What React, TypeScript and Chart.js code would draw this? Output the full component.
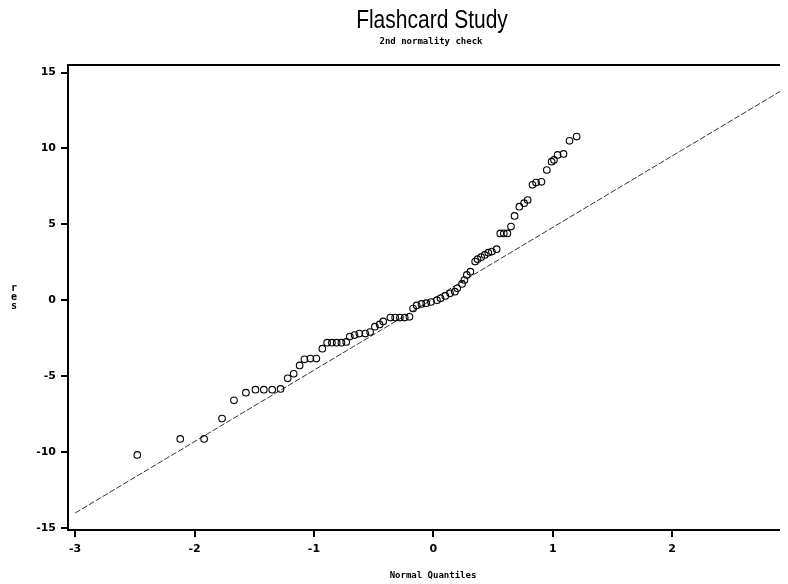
import React, { useEffect, useRef } from "react";
import { Chart, registerables } from "chart.js";

Chart.register(...registerables);

const TITLE = "Flashcard Study";
const SUBTITLE = "2nd normality check";
const X_TITLE = "Normal Quantiles";
const Y_TITLE = ["r", "e", "s"];

const X_TICKS = [-3, -2, -1, 0, 1, 2];
const Y_TICKS = [-15, -10, -5, 0, 5, 10, 15];

const quantiles = [
  -2.48, -2.12, -1.92, -1.77, -1.67, -1.57, -1.49, -1.42, -1.35, -1.28,
  -1.22, -1.17, -1.12, -1.08, -1.03, -0.98, -0.93, -0.89, -0.85, -0.81,
  -0.77, -0.73, -0.70, -0.66, -0.62, -0.57, -0.53, -0.49, -0.45, -0.42,
  -0.36, -0.32, -0.28, -0.24, -0.20, -0.17, -0.14, -0.10, -0.06, -0.02,
  0.03, 0.06, 0.10, 0.14, 0.18, 0.20, 0.24, 0.26, 0.28, 0.31,
  0.35, 0.37, 0.40, 0.43, 0.46, 0.49, 0.53, 0.56, 0.59, 0.62,
  0.65, 0.68, 0.72, 0.76, 0.79, 0.83, 0.86, 0.905, 0.95, 0.99,
  1.01, 1.04, 1.09, 1.14, 1.20,
];

const residuals = [
  -10.2, -9.15, -9.15, -7.8, -6.6, -6.1, -5.9, -5.9, -5.9, -5.85,
  -5.15, -4.85, -4.3, -3.9, -3.85, -3.85, -3.2, -2.8, -2.8, -2.8,
  -2.8, -2.75, -2.4, -2.3, -2.2, -2.2, -2.1, -1.75, -1.6, -1.4,
  -1.15, -1.15, -1.15, -1.15, -1.1, -0.55, -0.35, -0.25, -0.2, -0.12,
  0.0, 0.12, 0.28, 0.45, 0.56, 0.78, 1.07, 1.33, 1.66, 1.88,
  2.54, 2.7, 2.83, 2.98, 3.13, 3.2, 3.36, 4.4, 4.4, 4.4,
  4.85, 5.55, 6.16, 6.39, 6.6, 7.6, 7.75, 7.8, 8.58, 9.13,
  9.24, 9.57, 9.64, 10.5, 10.78,
];

const refLineX = [-3, 2.97];
const refLineY = [-14.03, 14.07];

const MONO = "'DejaVu Sans Mono', monospace";

const textPlugin = {
  id: "sasTexts",
  afterDraw(chart: any) {
    const { ctx, chartArea } = chart;
    ctx.save();
    ctx.strokeStyle = "#000";
    ctx.lineWidth = 2;
    ctx.beginPath();
    ctx.moveTo(chartArea.left, chartArea.top);
    ctx.lineTo(chartArea.right, chartArea.top);
    ctx.stroke();

    ctx.fillStyle = "#000";
    ctx.textBaseline = "alphabetic";
    ctx.textAlign = "center";

    ctx.save();
    ctx.font = "25px 'Liberation Sans', Arial, sans-serif";
    ctx.translate(424, 20);
    ctx.scale(0.84, 1);
    ctx.fillText(TITLE, 0, 0);
    ctx.restore();

    ctx.font = "bold 9px " + MONO;
    ctx.fillText(SUBTITLE, 423, 35.5);
    ctx.fillText(X_TITLE, 425, 569.5);

    ctx.font = "bold 10px " + MONO;
    const ys = [283, 292, 301];
    Y_TITLE.forEach((ch, i) => ctx.fillText(ch, 6, ys[i]));
    ctx.restore();
  },
};

export default function App() {
  const ref = useRef<HTMLCanvasElement>(null);
  useEffect(() => {
    if (!ref.current) return;
    const points = quantiles.map((q, i) => ({ x: q, y: residuals[i] }));
    const line = refLineX.map((x, i) => ({ x, y: refLineY[i] }));
    const tickFont = { family: "'DejaVu Sans', sans-serif", size: 11, weight: "bold" as const };
    const chart = new Chart(ref.current, {
      type: "scatter",
      data: {
        datasets: [
          {
            label: "res",
            data: points,
            showLine: false,
            pointStyle: "circle",
            pointRadius: 3.3,
            pointBorderWidth: 1.1,
            pointBorderColor: "#000",
            pointBackgroundColor: "rgba(0,0,0,0)",
          },
          {
            type: "line",
            label: "reference",
            data: line,
            borderColor: "#333",
            borderWidth: 1,
            borderDash: [6, 2],
            pointRadius: 0,
            fill: false,
          } as any,
        ],
      },
      options: {
        responsive: false,
        animation: false,
        layout: { autoPadding: false, padding: { top: 57, left: 0, right: 0, bottom: 0 } },
        plugins: {
          legend: { display: false },
          title: { display: false },
          tooltip: { enabled: false },
        },
        scales: {
          x: {
            type: "linear",
            position: "bottom",
            min: -3.06,
            max: 2.97,
            afterBuildTicks: (s: any) => {
              s.ticks = X_TICKS.map((v) => ({ value: v }));
            },
            afterFit: (s: any) => {
              s.height = 54;
              s.paddingLeft = 0;
              s.paddingRight = 0;
            },
            grid: { drawOnChartArea: false, drawTicks: true, tickLength: 7, lineWidth: 2, color: "#000" },
            border: { display: true, color: "#000", width: 2 },
            ticks: { font: tickFont, color: "#000", padding: 6, maxRotation: 0 },
          },
          y: {
            type: "linear",
            min: -15.15,
            max: 15.5,
            afterBuildTicks: (s: any) => {
              s.ticks = Y_TICKS.map((v) => ({ value: v }));
            },
            afterFit: (s: any) => {
              s.width = 60;
              s.paddingTop = 0;
              s.paddingBottom = 0;
            },
            grid: { drawOnChartArea: false, drawTicks: true, tickLength: 7, lineWidth: 2, color: "#000" },
            border: { display: true, color: "#000", width: 2 },
            ticks: { font: tickFont, color: "#000", padding: 5 },
          },
        },
      },
      plugins: [textPlugin],
    });
    return () => chart.destroy();
  }, []);
  return <canvas ref={ref} width={780} height={576} style={{ display: "block" }} />;
}
